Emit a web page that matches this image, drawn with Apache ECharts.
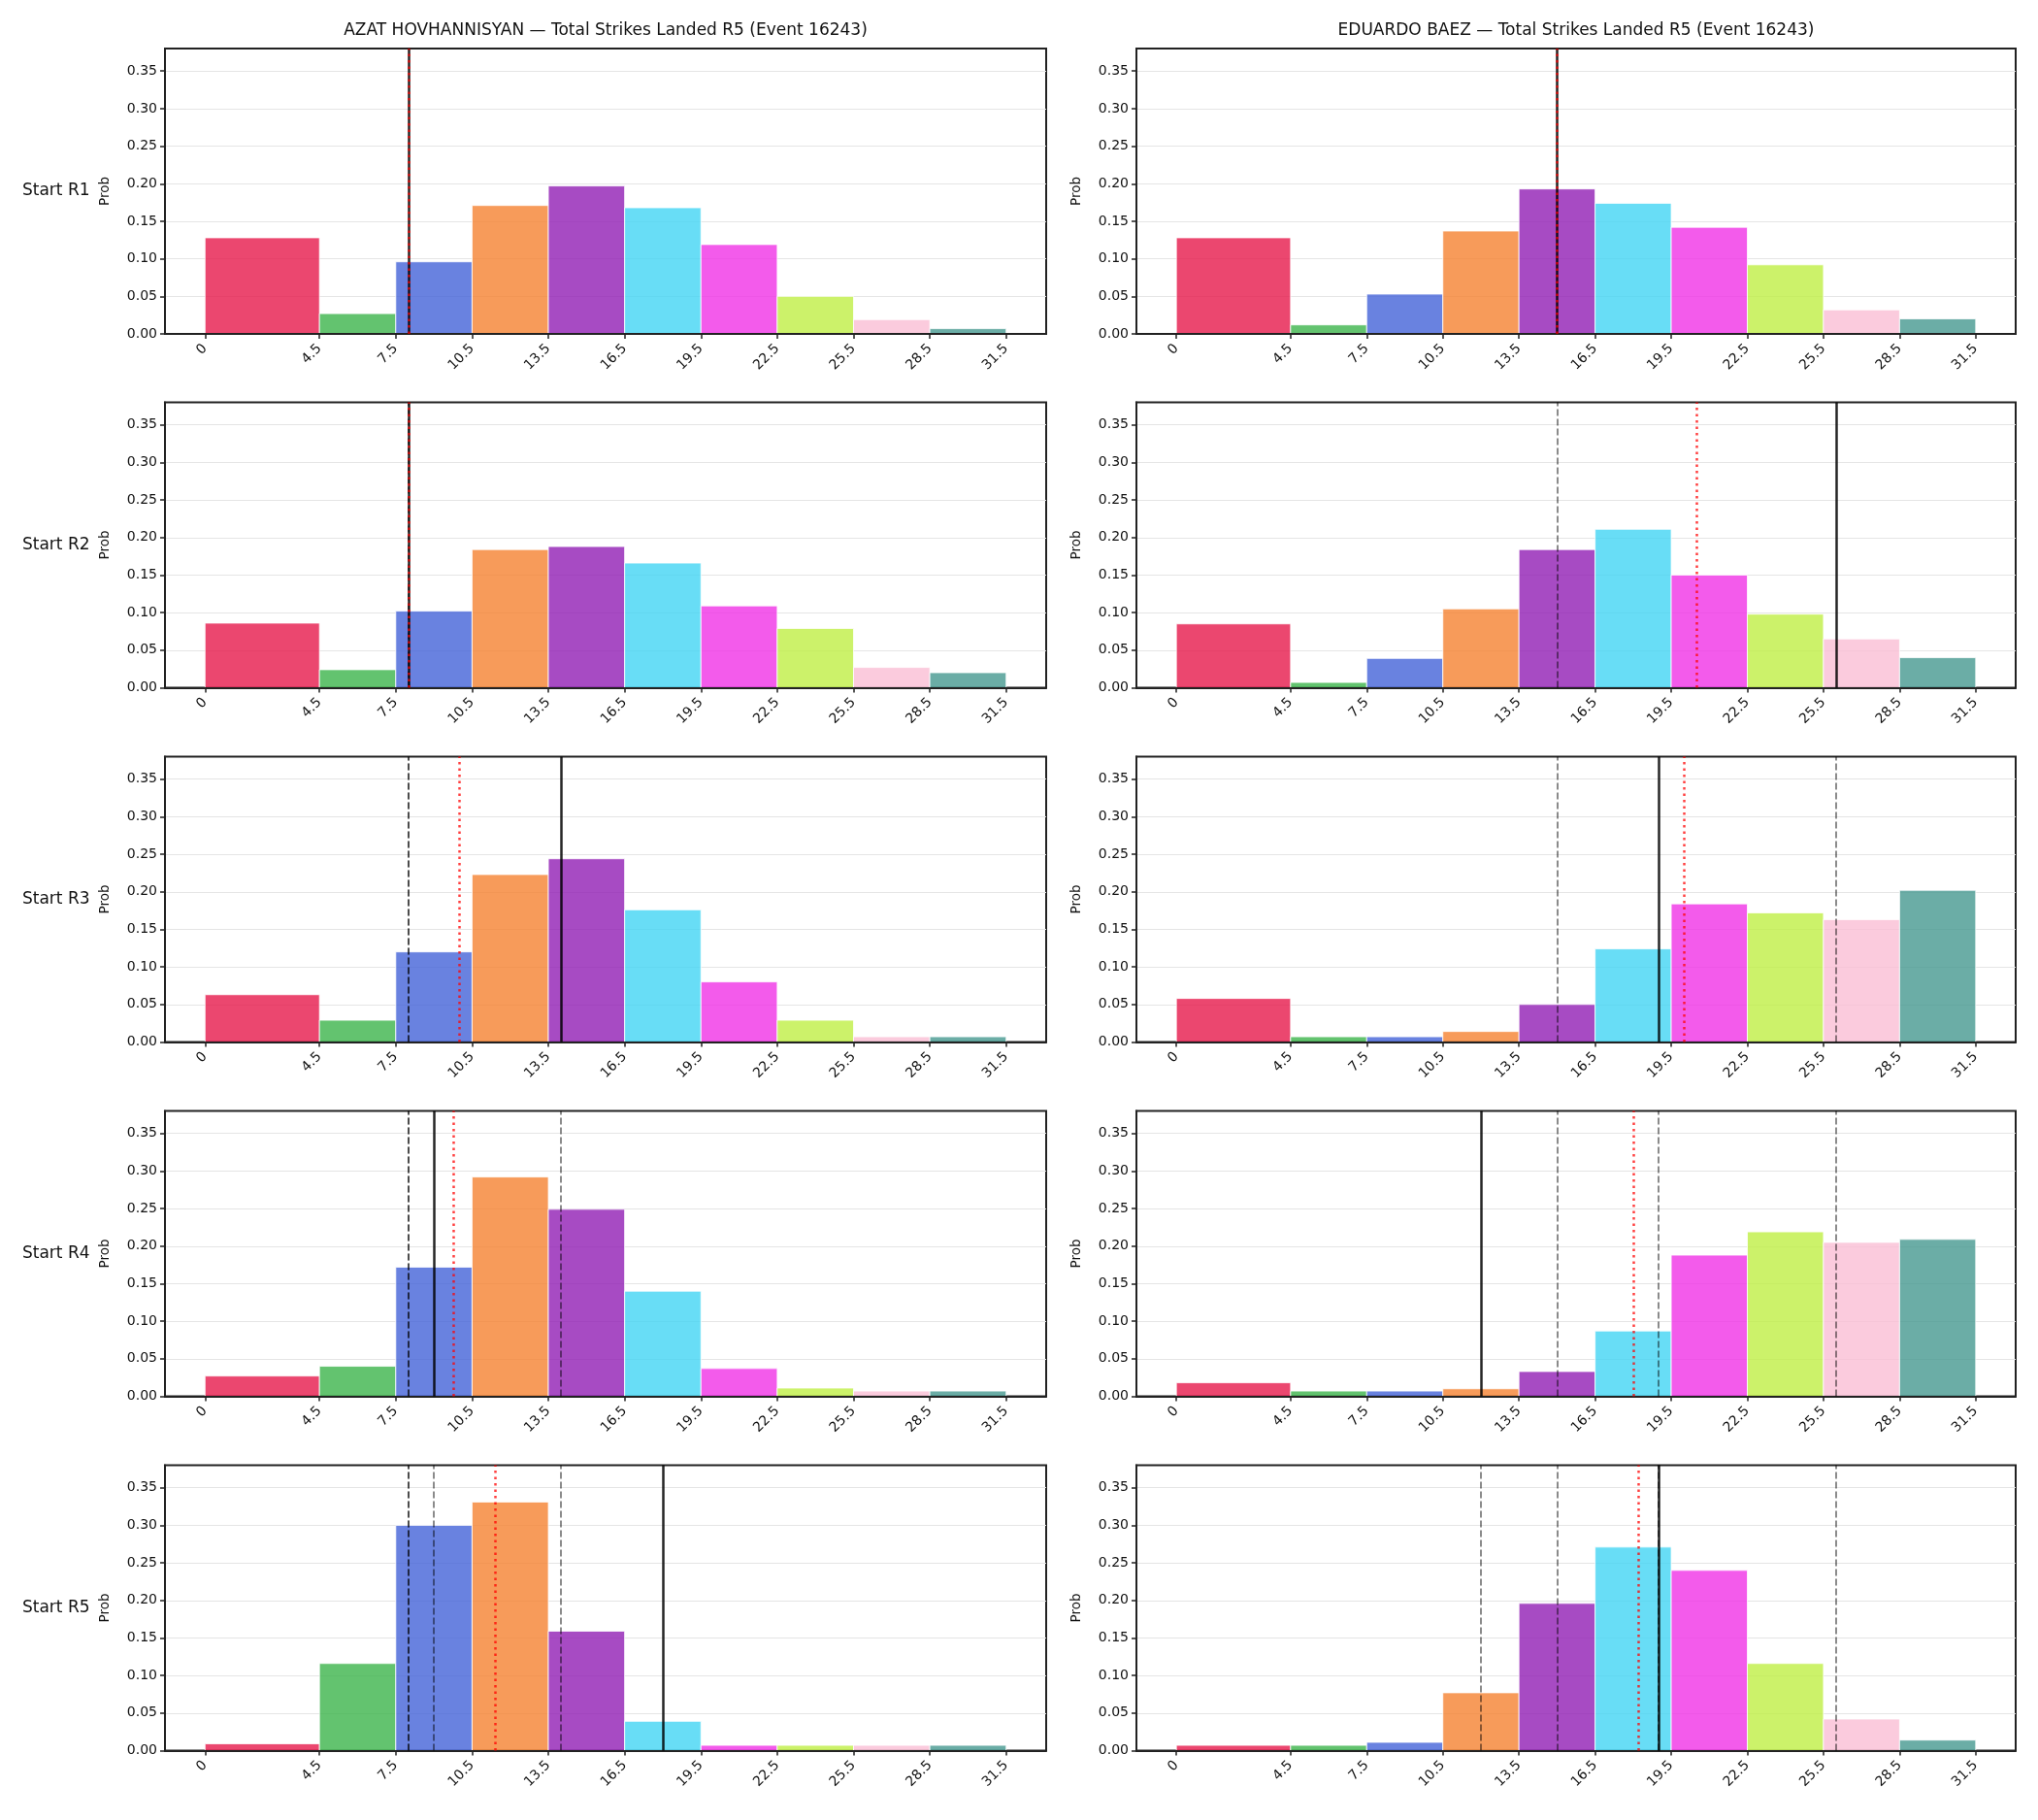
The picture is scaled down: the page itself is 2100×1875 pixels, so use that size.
<!DOCTYPE html>
<html>
<head>
<meta charset="utf-8">
<title>Total Strikes Landed R5 (Event 16243)</title>
<script src="https://cdn.jsdelivr.net/npm/echarts@6.0.0/dist/echarts.min.js"></script>
<style>
  html, body { margin: 0; padding: 0; background: #fff; }
  #chart { width: 2100px; height: 1875px; }
</style>
</head>
<body>
<div id="chart"></div>
<script>
const fighters = ["AZAT HOVHANNISYAN", "EDUARDO BAEZ"];
const startRounds = ["Start R1", "Start R2", "Start R3", "Start R4", "Start R5"];
const binEdges = [0, 4.5, 7.5, 10.5, 13.5, 16.5, 19.5, 22.5, 25.5, 28.5, 31.5];
const binColors = ["#e6194b", "#3cb44b", "#4363d8", "#f58231", "#911eb4", "#42d4f4", "#f032e6", "#bfef45", "#fabed4", "#469990"];
const yTicks = [0, 0.05, 0.1, 0.15, 0.2, 0.25, 0.3, 0.35];

// prob per bin, one row per start round
const azatProbs = [
  [0.128, 0.027, 0.096, 0.171, 0.197, 0.168, 0.119, 0.050, 0.019, 0.007],
  [0.086, 0.024, 0.102, 0.184, 0.188, 0.166, 0.109, 0.079, 0.027, 0.020],
  [0.063, 0.029, 0.120, 0.223, 0.244, 0.176, 0.080, 0.029, 0.007, 0.007],
  [0.027, 0.040, 0.172, 0.292, 0.249, 0.140, 0.037, 0.011, 0.007, 0.007],
  [0.009, 0.116, 0.300, 0.331, 0.159, 0.039, 0.007, 0.007, 0.007, 0.007]
];
const baezProbs = [
  [0.128, 0.012, 0.053, 0.137, 0.193, 0.174, 0.142, 0.092, 0.032, 0.020],
  [0.085, 0.007, 0.039, 0.105, 0.184, 0.211, 0.150, 0.098, 0.065, 0.040],
  [0.058, 0.007, 0.007, 0.014, 0.050, 0.124, 0.184, 0.172, 0.163, 0.202],
  [0.018, 0.007, 0.007, 0.010, 0.033, 0.087, 0.188, 0.219, 0.205, 0.209],
  [0.007, 0.007, 0.011, 0.077, 0.196, 0.271, 0.240, 0.116, 0.042, 0.014]
];
// strikes landed per round: solid = this round, dashed = earlier rounds
const azatActual = [8, 8, 14, 9, 18];
const baezActual = [15, 26, 19, 12, 19];
// red dotted line per start round
const azatMark = [8, 8, 10, 9.75, 11.4];
const baezMark = [15, 20.5, 20, 18, 18.2];

const FONT = "DejaVu Sans";
const colLeft = [170, 1171];
const colWidth = [908, 906];
const rowTop = [50, 414.5, 779.5, 1144.5, 1509.5];
const rowHeight = 294;

const probs = [azatProbs, baezProbs];
const actual = [azatActual, baezActual];
const marks = [azatMark, baezMark];

const grids = [], xAxes = [], yAxes = [], series = [], graphics = [];

for (let c = 0; c < 2; c++) {
  graphics.push({
    type: "text", x: colLeft[c] + colWidth[c] / 2, y: 32,
    style: {
      text: fighters[c] + " \u2014 Total Strikes Landed R5 (Event 16243)",
      font: "17px " + FONT, fill: "#111", textAlign: "center", textVerticalAlign: "middle"
    }
  });
  for (let r = 0; r < 5; r++) {
    const i = c * 5 + r;
    grids.push({
      left: colLeft[c], top: rowTop[r], width: colWidth[c], height: rowHeight,
      show: true, borderColor: "#222", borderWidth: 2, backgroundColor: "transparent"
    });
    xAxes.push({
      type: "value", gridIndex: i, min: -1.575, max: 33.075, z: 3,
      axisLine: { show: true, onZero: false, lineStyle: { color: "#222", width: 2 } },
      axisTick: { show: true, customValues: binEdges, length: 5, lineStyle: { color: "#222", width: 1.5 } },
      axisLabel: { customValues: binEdges, rotate: 45, margin: 13, fontSize: 14, fontFamily: FONT, color: "#111" },
      splitLine: { show: false }
    });
    yAxes.push({
      type: "value", gridIndex: i, min: 0, max: 0.38, interval: 0.05,
      name: "Prob", nameLocation: "middle", nameGap: 55,
      nameTextStyle: { fontSize: 13.5, fontFamily: FONT, color: "#111" },
      axisLine: { show: true, onZero: false, lineStyle: { color: "#222", width: 2 } },
      axisTick: { show: true, customValues: yTicks, length: 5, lineStyle: { color: "#222", width: 1.5 } },
      axisLabel: { customValues: yTicks, fontSize: 14, fontFamily: FONT, color: "#111", margin: 8, formatter: v => v.toFixed(2) },
      splitLine: { show: true, lineStyle: { color: "#e5e5e5", width: 1 } }
    });

    const lines = [];
    for (let k = 0; k < r; k++) {
      lines.push({ xAxis: actual[c][k], lineStyle: { color: "rgba(0,0,0,0.5)", width: 1.8, type: [7, 3] } });
    }
    lines.push({ xAxis: actual[c][r], lineStyle: { color: "rgba(0,0,0,0.85)", width: 2.5, type: "solid" } });
    lines.push({ xAxis: marks[c][r], lineStyle: { color: "rgba(255,0,0,0.75)", width: 2.5, type: [2.5, 4] } });

    series.push({
      type: "custom", xAxisIndex: i, yAxisIndex: i,
      data: probs[c][r].map((p, k) => [binEdges[k], binEdges[k + 1], p, k]),
      encode: { x: [0, 1], y: 2 },
      renderItem: (params, api) => {
        const p0 = api.coord([api.value(0), api.value(2)]);
        const p1 = api.coord([api.value(1), 0]);
        return {
          type: "rect",
          shape: { x: p0[0], y: p0[1], width: p1[0] - p0[0], height: p1[1] - p0[1] },
          style: { fill: binColors[api.value(3)], stroke: "#fff", lineWidth: 1, opacity: 0.8 }
        };
      },
      markLine: { silent: true, symbol: ["none", "none"], label: { show: false }, animation: false, data: lines }
    });

    if (c === 0) {
      graphics.push({
        type: "text", x: 23, y: rowTop[r] + rowHeight / 2,
        style: { text: startRounds[r], font: "17px " + FONT, fill: "#111", textVerticalAlign: "middle" }
      });
    }
  }
}

const chart = echarts.init(document.getElementById("chart"));
chart.setOption({
  animation: false,
  backgroundColor: "#fff",
  grid: grids,
  xAxis: xAxes,
  yAxis: yAxes,
  series: series,
  graphic: graphics
});
</script>
</body>
</html>
